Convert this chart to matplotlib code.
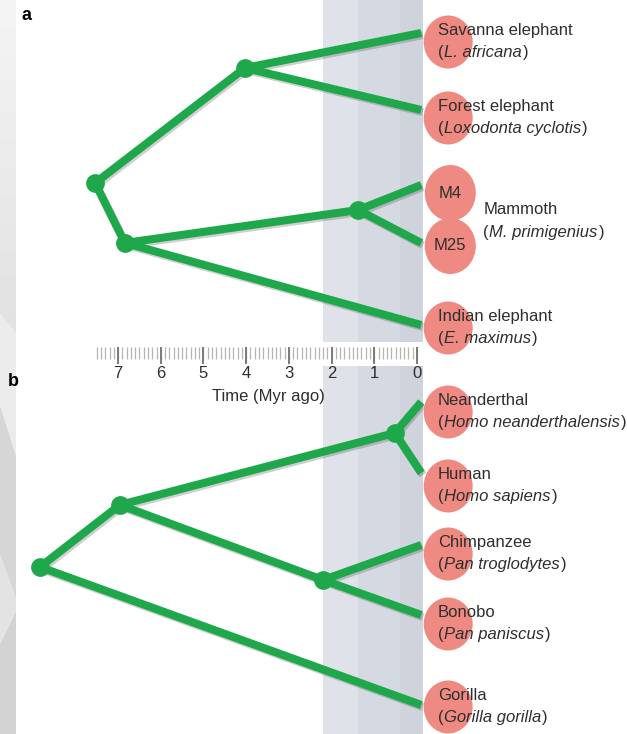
import matplotlib.pyplot as plt
import matplotlib.patheffects as pe
from matplotlib.patches import Rectangle, Ellipse, Polygon
import numpy as np

plt.rcParams['font.family'] = ['Liberation Sans', 'DejaVu Sans']

# ---- data: node times (Myr ago) and vertical layout positions ----
# panel a, elephants and mammoth
a_nodes = {
    'root': (7.54, 183), 'afr': (4.03, 68), 'mi': (6.84, 243), 'mam': (1.38, 210),
    'sav': (-0.1, 33), 'for': (-0.1, 110), 'M4': (-0.1, 185), 'M25': (-0.1, 243),
    'ind': (-0.1, 325),
}
a_edges = [('root', 'afr'), ('root', 'mi'), ('afr', 'sav'), ('afr', 'for'),
           ('mi', 'mam'), ('mi', 'ind'), ('mam', 'M4'), ('mam', 'M25')]
a_inner = ['root', 'afr', 'mi', 'mam']

# panel b, hominids
b_nodes = {
    'root': (8.83, 567), 'hp': (6.96, 505), 'homo': (0.52, 433), 'pan': (2.2, 580),
    'nea': (-0.1, 402), 'hum': (-0.1, 473), 'chi': (-0.1, 545), 'bon': (-0.1, 615),
    'gor': (-0.1, 705),
}
b_edges = [('root', 'hp'), ('root', 'gor'), ('hp', 'homo'), ('hp', 'pan'),
           ('homo', 'nea'), ('homo', 'hum'), ('pan', 'chi'), ('pan', 'bon')]
b_inner = ['root', 'hp', 'homo', 'pan']

# labelled tips (circle centre y, common name, latin name)
tip_y = [42, 118, 328, 412, 486, 554, 624, 707]
tip_names = ['Savanna elephant', 'Forest elephant', 'Indian elephant', 'Neanderthal',
             'Human', 'Chimpanzee', 'Bonobo', 'Gorilla']
tip_latin = ['L. africana', 'Loxodonta cyclotis', 'E. maximus', 'Homo neanderthalensis',
             'Homo sapiens', 'Pan troglodytes', 'Pan paniscus', 'Gorilla gorilla']
mam_y = [193, 246]
mam_names = ['M4', 'M25']
mam_label = ('Mammoth', 'M. primigenius')

# shaded time bands (Myr ago)
band_edges = [2.2, 1.38, 0.4, -0.14]
band_colors = ['#dfe2e9', '#d5d9e1', '#cfd3dc']
panel_spans = [(0, 342), (366, 734)]

ticks_major = [7, 6, 5, 4, 3, 2, 1, 0]
ticks_minor = np.round(np.arange(0, 7.55, 0.1), 1)

green = '#1fa84b'
pink = '#ef8a82'
txt = '#2e2e2e'
px = 42.7  # pixels per Myr

fig = plt.figure(figsize=(6.27, 7.34), dpi=100)
renderer = fig.canvas.get_renderer()

# grey decorative strip on the left edge
sx = fig.add_axes([0, 0, 16 / 627, 1])
sx.set_axis_off()
sx.add_patch(Rectangle((0, 0), 16, 734, color='#d2d2d2', lw=0))
# light gradient on top part
shades = np.linspace(0.955, 0.885, 12)
for i, s in enumerate(shades):
    y0 = i * 333 / len(shades)
    sx.add_patch(Rectangle((0, y0), 16, 333 / len(shades) + 1, color=str(s), lw=0))
sx.add_patch(Polygon([(0, 313), (16, 333), (16, 0), (0, 0)], closed=True, fill=False, lw=0))
sx.add_patch(Polygon([(0, 313), (16, 333), (16, 457), (0, 407)], color='#ebebeb', lw=0))
sx.add_patch(Polygon([(0, 407), (16, 457), (16, 597), (0, 554)], color='#d6d6d6', lw=0))
sx.add_patch(Polygon([(0, 554), (16, 597), (16, 612), (0, 645)], color='#e3e3e3', lw=0))
sx.set_xlim(0, 16)
sx.set_ylim(734, 0)

ax = fig.add_axes([0, 0, 1, 1])
ax.set_xlim(417 / px, (417 - 627) / px)
ax.set_ylim(734, 0)
ax.set_axis_off()
ax.patch.set_alpha(0)

# background bands
for y0, y1 in panel_spans:
    for i, c in enumerate(band_colors):
        ax.add_patch(Rectangle((band_edges[i + 1], y0), band_edges[i] - band_edges[i + 1],
                               y1 - y0, color=c, lw=0, zorder=0))

shadow = [pe.SimpleLineShadow(offset=(1.2, -1.5), alpha=0.25, shadow_color='#404040'), pe.Normal()]


def draw_tree(nodes, edges, inner):
    for a, b in edges:
        xa, ya = nodes[a]
        xb, yb = nodes[b]
        ax.plot([xa, xb], [ya, yb], color=green, lw=5.8, solid_capstyle='butt',
                zorder=2, path_effects=shadow)
    ax.plot([nodes[n][0] for n in inner], [nodes[n][1] for n in inner], 'o',
            color=green, ms=12.5, zorder=3)


def latin_label(x, y, s):
    # "(" + italic name + ")" on one baseline
    kw = dict(fontsize=12, color=txt, va='baseline', zorder=5)
    t1 = ax.text(x, y, '(', **kw)
    w1 = t1.get_window_extent(renderer).width
    t2 = ax.annotate(s, (x, y), xytext=(w1 + 0.5, 0), textcoords='offset pixels',
                     style='italic', **kw)
    w2 = t2.get_window_extent(renderer).width
    ax.annotate(')', (x, y), xytext=(w1 + w2 + 1.5, 0), textcoords='offset pixels', **kw)


draw_tree(a_nodes, a_edges, a_inner)
draw_tree(b_nodes, b_edges, b_inner)

# tip circles and labels
cx = -0.73
for y, name, lat in zip(tip_y, tip_names, tip_latin):
    ax.add_patch(Ellipse((cx, y), 49 / px, 53, color=pink, lw=0, zorder=4))
    ax.text(-0.49, y - 7, name, fontsize=12, color=txt, va='baseline', zorder=5)
    latin_label(-0.49, y + 15, lat)
for y, name in zip(mam_y, mam_names):
    ax.add_patch(Ellipse((-0.78, y), 51 / px, 56, color=pink, lw=0, zorder=4))
    ax.text(-0.78, y, name, fontsize=12, color=txt, ha='center', va='center', zorder=5)
ax.text(-1.55, 214, mam_label[0], fontsize=12, color=txt, va='baseline', zorder=5)
latin_label(-1.55, 237, mam_label[1])

# time ruler
ax.vlines(ticks_minor, 347, 359, color='#b4b4b4', lw=0.9)
ax.vlines(ticks_major, 347, 364, color='#7a7a7a', lw=1.4)
for t in ticks_major:
    ax.text(t, 374, str(t), fontsize=12, color=txt, ha='center', va='center')
ax.text(3.47, 397, 'Time (Myr ago)', fontsize=12, color=txt, ha='center', va='center')

ax.text(417 / px - 22 / px, 15, 'a', fontsize=13, fontweight='bold', ha='left', va='center')
ax.text(417 / px - 8 / px, 381, 'b', fontsize=13, fontweight='bold', ha='left', va='center')

fig.savefig('out.png', dpi=100)
